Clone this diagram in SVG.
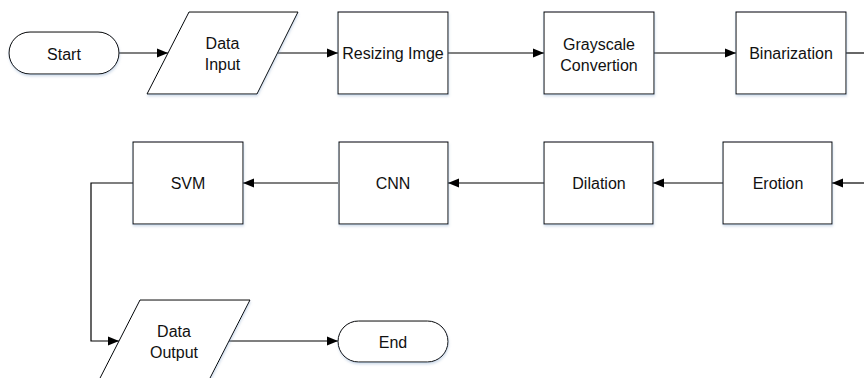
<svg xmlns="http://www.w3.org/2000/svg" width="864" height="378" viewBox="0 0 864 378">
<style>
.shape{fill:#fff;stroke:#000;stroke-width:1;filter:url(#sh)}
.lbl{font-family:"Liberation Sans",Arial,sans-serif;font-size:16px;fill:#111;text-anchor:middle}
.conn{fill:none;stroke:#000;stroke-width:1.2}
</style>
<defs>
<filter id="sh" x="-10%" y="-10%" width="130%" height="140%">
<feDropShadow dx="0.5" dy="2" stdDeviation="1.2" flood-color="#7f9fc8" flood-opacity="0.35"/>
</filter>
<marker id="arr" viewBox="0 0 11 10" refX="11" refY="5" markerWidth="11" markerHeight="10" markerUnits="userSpaceOnUse" orient="auto">
<path d="M0,0.5 L11,5 L0,9.5 Z" fill="#000"/>
</marker>
</defs>
<rect width="864" height="378" fill="#fff"/>
<g id="connectors">
<line class="conn" x1="119" y1="53" x2="168" y2="53" marker-end="url(#arr)"/>
<line class="conn" x1="278" y1="53" x2="338" y2="53" marker-end="url(#arr)"/>
<line class="conn" x1="448" y1="53" x2="544" y2="53" marker-end="url(#arr)"/>
<line class="conn" x1="654" y1="53" x2="736" y2="53" marker-end="url(#arr)"/>
<line class="conn" x1="846" y1="53" x2="864" y2="53"/>
<line class="conn" x1="864" y1="183" x2="832" y2="183" marker-end="url(#arr)"/>
<line class="conn" x1="723" y1="183" x2="653" y2="183" marker-end="url(#arr)"/>
<line class="conn" x1="544" y1="183" x2="448" y2="183" marker-end="url(#arr)"/>
<line class="conn" x1="338" y1="183" x2="243" y2="183" marker-end="url(#arr)"/>
<polyline class="conn" points="133,183 91,183 91,341 119,341" marker-end="url(#arr)"/>
<line class="conn" x1="229" y1="341" x2="338" y2="341" marker-end="url(#arr)"/>
</g>
<g id="start">
<rect class="shape" x="9" y="32" width="110" height="42" rx="21" ry="21"/>
<text class="lbl" x="64" y="59.5">Start</text>
</g>
<g id="data-input">
<polygon class="shape" points="189,12 298,12 257,94 147,94"/>
<text class="lbl" x="222.5" y="49">Data</text>
<text class="lbl" x="222.5" y="70">Input</text>
</g>
<g id="resizing">
<rect class="shape" x="338" y="12" width="110" height="82"/>
<text class="lbl" x="393" y="59">Resizing Imge</text>
</g>
<g id="grayscale">
<rect class="shape" x="544" y="12" width="110" height="82"/>
<text class="lbl" x="599" y="49.5">Grayscale</text>
<text class="lbl" x="599" y="71">Convertion</text>
</g>
<g id="binarization">
<rect class="shape" x="736" y="12" width="110" height="82"/>
<text class="lbl" x="791" y="59">Binarization</text>
</g>
<g id="erotion">
<rect class="shape" x="723" y="142" width="109" height="82"/>
<text class="lbl" x="778" y="189">Erotion</text>
</g>
<g id="dilation">
<rect class="shape" x="544" y="142" width="109" height="82"/>
<text class="lbl" x="599" y="189">Dilation</text>
</g>
<g id="cnn">
<rect class="shape" x="339" y="142" width="109" height="82"/>
<text class="lbl" x="393" y="189">CNN</text>
</g>
<g id="svm">
<rect class="shape" x="133" y="142" width="110" height="82"/>
<text class="lbl" x="188" y="189">SVM</text>
</g>
<g id="data-output">
<polygon class="shape" points="140,300 250,300 208,382 98,382"/>
<text class="lbl" x="174" y="337">Data</text>
<text class="lbl" x="174" y="358">Output</text>
</g>
<g id="end">
<rect class="shape" x="338" y="321" width="110" height="41" rx="20.5" ry="20.5"/>
<text class="lbl" x="393" y="347.5">End</text>
</g>
</svg>
